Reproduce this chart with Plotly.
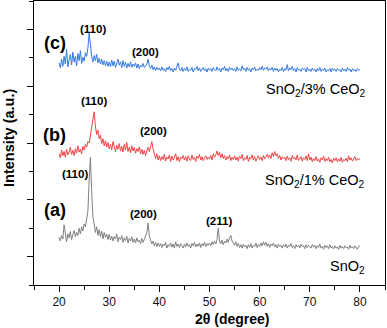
import numpy as np
import plotly.graph_objects as go

# 2-theta grid (degree), 20 -> 80 in 0.25 steps
two_theta = np.arange(20.0, 80.001, 0.25)

# (a) SnO2 (grey)
int_a = [
    0.68, 0.55, 0.74, 0.62, 1.12, 0.70, 0.52, 0.80, 0.66, 0.88, 0.60, 0.78, 0.92, 0.70, 0.86, 0.74, 1.00, 0.80, 1.05, 0.90,
    1.15, 1.05, 1.40, 1.60, 2.70, 3.50, 2.30, 1.40, 1.15, 0.85, 1.05, 0.75, 0.95, 0.70, 0.90, 0.62, 0.85, 0.68, 0.80, 0.60,
    0.78, 0.58, 0.72, 0.55, 0.70, 0.62, 0.80, 0.52, 0.68, 0.60, 0.74, 0.50, 0.66, 0.56, 0.72, 0.48, 0.64, 0.55, 0.70, 0.50,
    0.62, 0.48, 0.66, 0.52, 0.58, 0.45, 0.64, 0.50, 0.60, 0.78, 0.85, 1.18, 0.72, 0.58, 0.45, 0.55, 0.38, 0.50, 0.35, 0.48,
    0.36, 0.46, 0.32, 0.44, 0.38, 0.50, 0.30, 0.42, 0.36, 0.48, 0.33, 0.45, 0.30, 0.52, 0.36, 0.44, 0.32, 0.46, 0.38, 0.30,
    0.44, 0.34, 0.48, 0.36, 0.42, 0.30, 0.46, 0.38, 0.50, 0.34, 0.44, 0.36, 0.48, 0.32, 0.45, 0.38, 0.50, 0.35, 0.46, 0.40,
    0.48, 0.38, 0.52, 0.42, 0.55, 0.45, 0.60, 1.00, 0.55, 0.45, 0.58, 0.42, 0.55, 0.48, 0.62, 0.50, 0.66, 0.75, 0.55, 0.48,
    0.40, 0.52, 0.36, 0.46, 0.32, 0.42, 0.30, 0.44, 0.34, 0.40, 0.28, 0.42, 0.33, 0.46, 0.30, 0.40, 0.35, 0.48, 0.32, 0.42,
    0.36, 0.48, 0.38, 0.52, 0.40, 0.50, 0.36, 0.46, 0.32, 0.44, 0.38, 0.48, 0.34, 0.42, 0.30, 0.44, 0.36, 0.40, 0.30, 0.42,
    0.34, 0.44, 0.30, 0.40, 0.36, 0.46, 0.32, 0.38, 0.28, 0.42, 0.34, 0.40, 0.30, 0.44, 0.35, 0.38, 0.28, 0.42, 0.32, 0.40,
    0.36, 0.30, 0.42, 0.33, 0.40, 0.28, 0.38, 0.32, 0.44, 0.30, 0.36, 0.26, 0.40, 0.32, 0.38, 0.28, 0.42, 0.30, 0.36, 0.27,
    0.38, 0.30, 0.34, 0.25, 0.40, 0.30, 0.36, 0.28, 0.38, 0.31, 0.34, 0.26, 0.40, 0.30, 0.35, 0.28, 0.38, 0.30, 0.26, 0.36,
    0.38,
]

# (b) SnO2/1% CeO2 (red)
int_b = [
    3.62, 3.48, 3.75, 3.55, 3.70, 3.50, 3.78, 3.58, 3.68, 3.85, 3.60, 3.74, 3.56, 3.80, 3.64, 3.90, 3.68, 3.78, 3.62, 3.88,
    3.75, 3.95, 3.85, 4.05, 4.00, 4.25, 4.55, 4.80, 5.10, 4.60, 4.30, 4.45, 4.15, 4.28, 3.98, 4.15, 3.90, 4.08, 3.85, 4.02,
    3.80, 3.95, 3.75, 4.05, 3.82, 3.70, 3.92, 3.78, 3.98, 3.72, 3.88, 3.68, 3.95, 3.75, 4.02, 3.70, 3.85, 3.66, 3.90, 3.72,
    3.84, 3.64, 3.80, 3.70, 3.86, 3.62, 3.78, 3.60, 3.74, 3.55, 3.72, 3.85, 3.70, 3.92, 4.05, 3.78, 3.58, 3.45, 3.62, 3.40,
    3.55, 3.38, 3.52, 3.42, 3.60, 3.36, 3.50, 3.44, 3.58, 3.35, 3.54, 3.40, 3.48, 3.62, 3.38, 3.52, 3.34, 3.50, 3.45, 3.56,
    3.40, 3.52, 3.36, 3.55, 3.44, 3.38, 3.58, 3.42, 3.50, 3.35, 3.54, 3.46, 3.60, 3.40, 3.52, 3.38, 3.48, 3.55, 3.42, 3.50,
    3.44, 3.56, 3.40, 3.62, 3.50, 3.58, 3.72, 3.55, 3.68, 3.48, 3.62, 3.45, 3.56, 3.40, 3.52, 3.44, 3.58, 3.38, 3.50, 3.42,
    3.55, 3.40, 3.50, 3.36, 3.54, 3.45, 3.60, 3.38, 3.48, 3.42, 3.56, 3.35, 3.50, 3.44, 3.58, 3.40, 3.52, 3.36, 3.46, 3.55,
    3.42, 3.50, 3.38, 3.56, 3.44, 3.52, 3.60, 3.48, 3.58, 3.45, 3.66, 3.52, 3.70, 3.55, 3.62, 3.46, 3.56, 3.40, 3.52, 3.44,
    3.50, 3.38, 3.54, 3.42, 3.48, 3.36, 3.56, 3.44, 3.50, 3.40, 3.58, 3.38, 3.46, 3.52, 3.36, 3.48, 3.42, 3.55, 3.38, 3.62,
    3.40, 3.50, 3.34, 3.46, 3.38, 3.52, 3.36, 3.44, 3.32, 3.48, 3.40, 3.54, 3.35, 3.45, 3.38, 3.50, 3.34, 3.42, 3.30, 3.46,
    3.38, 3.48, 3.34, 3.44, 3.36, 3.50, 3.32, 3.42, 3.38, 3.46, 3.34, 3.55, 3.40, 3.48, 3.36, 3.44, 3.52, 3.38, 3.46, 3.40,
    3.44,
]

# (c) SnO2/3% CeO2 (blue)
int_c = [
    6.82, 6.65, 6.95, 6.70, 7.05, 6.78, 7.30, 6.68, 6.92, 7.12, 6.75, 7.20, 6.85, 7.05, 6.72, 7.15, 6.90, 7.25, 6.80, 7.02,
    6.88, 7.18, 7.05, 7.35, 7.88, 7.30, 7.05, 6.85, 7.08, 6.90, 7.12, 6.82, 6.98, 6.78, 6.95, 6.75, 6.90, 6.72, 6.88, 6.70,
    6.85, 6.68, 6.92, 6.72, 6.88, 6.66, 6.82, 6.95, 6.74, 6.86, 6.65, 6.90, 6.70, 6.84, 6.64, 6.80, 6.68, 6.86, 6.66, 6.78,
    6.70, 6.82, 6.64, 6.78, 6.62, 6.74, 6.68, 6.80, 6.66, 6.72, 6.78, 6.95, 6.70, 6.62, 6.74, 6.58, 6.68, 6.55, 6.66, 6.58,
    6.64, 6.54, 6.68, 6.56, 6.62, 6.52, 6.66, 6.58, 6.70, 6.55, 6.62, 6.50, 6.64, 6.56, 6.68, 6.82, 6.60, 6.54, 6.66, 6.52,
    6.62, 6.55, 6.68, 6.52, 6.60, 6.56, 6.66, 6.50, 6.62, 6.58, 6.70, 6.54, 6.64, 6.52, 6.60, 6.66, 6.54, 6.62, 6.50, 6.64,
    6.56, 6.62, 6.52, 6.66, 6.58, 6.54, 6.68, 6.56, 6.62, 6.50, 6.64, 6.58, 6.70, 6.54, 6.62, 6.52, 6.66, 6.58, 6.64, 6.55,
    6.62, 6.52, 6.68, 6.56, 6.60, 6.54, 6.72, 6.58, 6.64, 6.52, 6.66, 6.56, 6.62, 6.50, 6.64, 6.58, 6.68, 6.54, 6.60, 6.56,
    6.66, 6.58, 6.70, 6.56, 6.64, 6.60, 6.68, 6.54, 6.62, 6.58, 6.66, 6.52, 6.64, 6.56, 6.62, 6.50, 6.60, 6.55, 6.66, 6.52,
    6.62, 6.56, 6.76, 6.54, 6.64, 6.58, 6.70, 6.55, 6.62, 6.50, 6.66, 6.56, 6.60, 6.52, 6.64, 6.58, 6.62, 6.50, 6.66, 6.54,
    6.60, 6.52, 6.64, 6.56, 6.60, 6.50, 6.62, 6.54, 6.66, 6.52, 6.60, 6.55, 6.64, 6.50, 6.58, 6.54, 6.62, 6.50, 6.64, 6.56,
    6.60, 6.52, 6.62, 6.56, 6.58, 6.50, 6.64, 6.54, 6.60, 6.52, 6.66, 6.56, 6.60, 6.50, 6.62, 6.54, 6.58, 6.52, 6.62, 6.56,
    6.58,
]

series_colors = ["#808080", "#f04444", "#3479e2"]
sample_names = ["SnO<sub>2</sub>", "SnO<sub>2</sub>/1% CeO<sub>2</sub>", "SnO<sub>2</sub>/3% CeO<sub>2</sub>"]
panel_tags = ["(a)", "(b)", "(c)"]

# peak labels: (2theta, y, text)
peak_x = [23.2, 36.8, 51.8, 27.0, 38.8, 26.75, 37.3]
peak_y = [2.92, 1.51, 1.27, 5.47, 4.41, 8.03, 7.22]
peak_txt = ["(110)", "(200)", "(211)", "(110)", "(200)", "(110)", "(200)"]

tag_x = [19.25, 19.05, 19.25]
tag_y = [1.65, 4.29, 7.53]
name_x = [81.4, 81.5, 81.6]
name_y = [-0.35, 2.67, 5.86]

FONT = "Liberation Sans, Arial, sans-serif"

fig = go.Figure()
for ys, col in zip([int_a, int_b, int_c], series_colors):
    fig.add_trace(go.Scatter(x=two_theta, y=ys, mode="lines",
                             line=dict(color=col, width=1), showlegend=False))

for x, y, t in zip(peak_x, peak_y, peak_txt):
    fig.add_annotation(x=x, y=y, text="<b>%s</b>" % t, showarrow=False,
                       font=dict(size=11.5, color="black", family=FONT))
for x, y, t in zip(tag_x, tag_y, panel_tags):
    fig.add_annotation(x=x, y=y, text="<b>%s</b>" % t, showarrow=False,
                       font=dict(size=18, color="black", family=FONT))
for x, y, t in zip(name_x, name_y, sample_names):
    fig.add_annotation(x=x, y=y, text=t, showarrow=False, xanchor="right",
                       font=dict(size=14.5, color="black", family=FONT))

# axis titles
fig.add_annotation(xref="paper", yref="paper", x=0.565, y=-0.12, yanchor="middle",
                   xanchor="center", text="<b>2θ (degree)</b>", showarrow=False,
                   font=dict(size=14, color="black", family=FONT))
fig.add_annotation(xref="paper", yref="paper", x=-0.071, y=0.518, textangle=-90,
                   xanchor="center", yanchor="middle",
                   text="<b>Intensity (a.u.)</b>", showarrow=False,
                   font=dict(size=14.5, color="black", family=FONT))

fig.update_layout(
    width=387, height=328,
    margin=dict(l=34, r=2, t=1, b=43),
    plot_bgcolor="white", paper_bgcolor="white",
    font=dict(family=FONT, size=12, color="black"),
)
fig.update_xaxes(range=[15, 85], tick0=20, dtick=10, ticks="outside", ticklen=6,
                 tickwidth=1, tickcolor="black", showline=True, linecolor="black",
                 linewidth=1, mirror=True, showgrid=False, zeroline=False,
                 tickfont=dict(size=12, color="#111"),
                 minor=dict(ticks="outside", dtick=5, tick0=20, ticklen=4, tickcolor="black", showgrid=False))
fig.update_yaxes(range=[-1, 9], tick0=0, dtick=2, ticks="outside", ticklen=6,
                 tickwidth=1, tickcolor="black", showline=True, linecolor="black",
                 linewidth=1, mirror=True, showgrid=False, zeroline=False,
                 showticklabels=False,
                 minor=dict(ticks="outside", dtick=1, tick0=0, ticklen=4, tickcolor="black", showgrid=False))

fig.write_html("out.html", config={"displayModeBar": False},
               post_script="document.body.style.margin='0px';document.body.style.overflow='hidden';")
